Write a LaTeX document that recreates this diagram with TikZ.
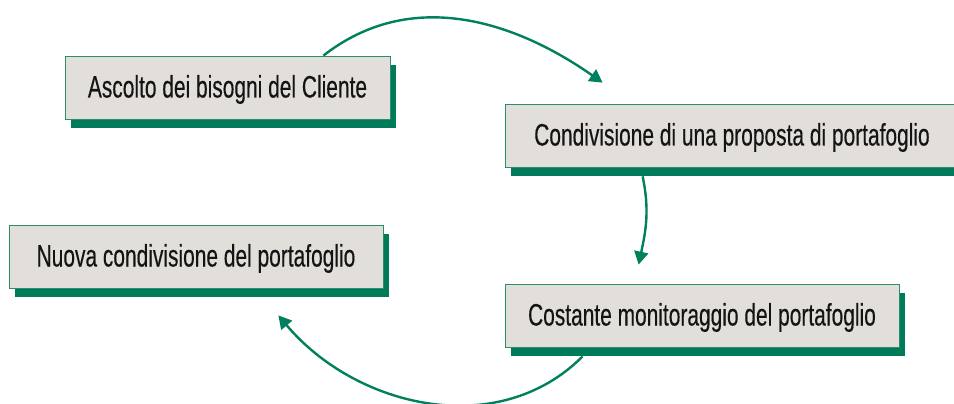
\documentclass[tikz,border=0pt]{standalone}
\usepackage{fontspec}
\usepackage{tikz}
\usetikzlibrary{positioning, calc, arrows.meta, shadows}

\newfontfamily\boxfont[FakeStretch=0.675, FakeBold=0.3]{Liberation Sans}

\definecolor{boxfill}{HTML}{E2DFDA}
\definecolor{boxline}{HTML}{2E8E6C}
\definecolor{shadowgreen}{HTML}{007B5A}
\definecolor{flowgreen}{HTML}{00805C}
\definecolor{textdark}{HTML}{141414}

\begin{document}
\begin{tikzpicture}[
    x=1pt, y=1pt,
    stage/.style={rectangle, draw=boxline, line width=0.8pt, fill=boxfill,
        minimum height=63pt, inner xsep=0pt, text=textdark,
        text height=24pt, text depth=4pt,
        font=\boxfont\fontsize{31}{36}\selectfont,
        drop shadow={shadow xshift=6pt, shadow yshift=-9pt, fill=shadowgreen, opacity=1}},
    flow/.style={-{Triangle[length=13pt, width=14pt]}, line width=2.4pt, draw=flowgreen}
]

    % Frame
    \useasboundingbox (0,0) rectangle (954,-404);
    \clip (0,0) rectangle (954,-404);

    % Stages
    \node[stage, minimum width=325pt] (ascolto)  at (227.5,-87.5) {Ascolto dei bisogni del Cliente};
    \node[stage, minimum width=454pt] (proposta) at (732,-135.5)  {Condivisione di una proposta di portafoglio};
    \node[stage, minimum width=394pt] (monitor)  at (702,-315.5)  {Costante monitoraggio del portafoglio};
    \node[stage, minimum width=374pt] (nuova)    at (196,-256.5)  {Nuova condivisione del portafoglio};

    % Cycle arrows
    \draw[flow] ($(ascolto.north east)+(-67,0)$) to[out=38, in=145] ($(proposta.north west)+(98,21)$);
    \draw[flow] ($(proposta.south west)+(138,-9)$) to[out=-78, in=78] ($(monitor.north west)+(134,19)$);
    \draw[flow] ($(monitor.south west)+(78,-9)$) to[out=-135, in=-50] ($(nuova.south east)+(-105,-27)$);

\end{tikzpicture}
\end{document}
